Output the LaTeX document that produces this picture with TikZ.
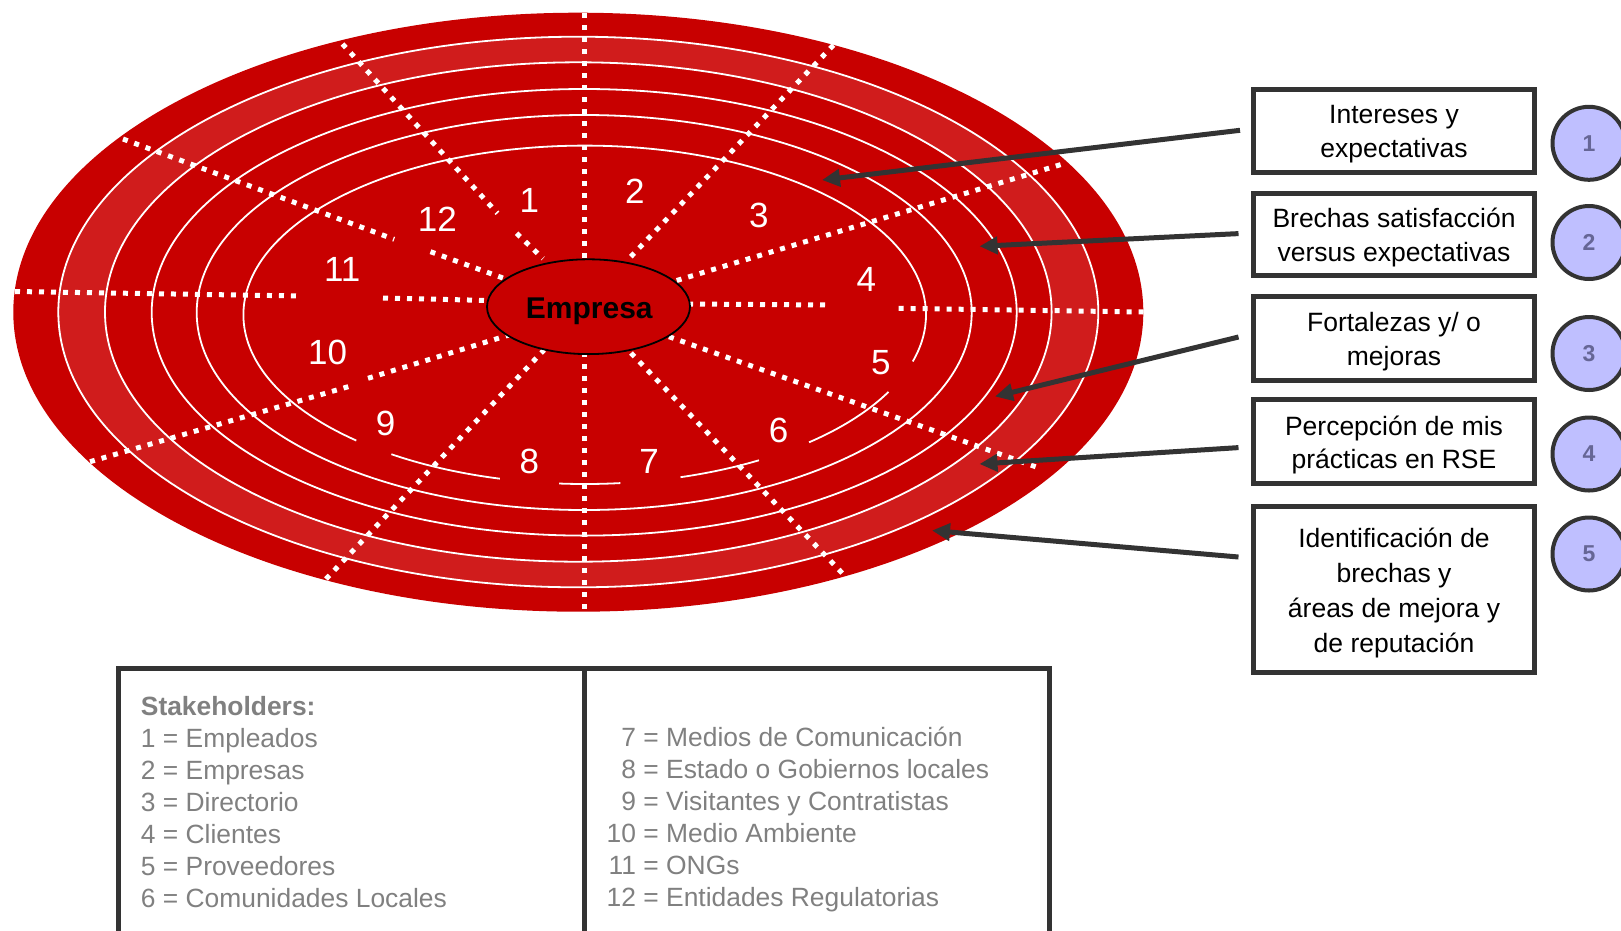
\documentclass[tikz,border=0pt]{standalone}
\usepackage{fontspec}
\setmainfont{Liberation Sans}
\usetikzlibrary{arrows.meta,shapes.geometric}
\definecolor{mainred}{RGB}{200,0,0}
\definecolor{bandred}{RGB}{208,28,28}
\definecolor{darkline}{RGB}{51,51,51}
\definecolor{lav}{RGB}{191,191,255}
\definecolor{lavnum}{RGB}{102,102,150}
\definecolor{tgray}{RGB}{128,128,128}
\begin{document}
\begin{tikzpicture}[x=1pt,y=-1pt,
  ringline/.style={draw=white,line width=1.8pt},
  spoke/.style={draw=white,line width=5pt,dash pattern=on 5pt off 7pt},
  numlbl/.style={text=white,font=\fontsize{35}{35}\selectfont,inner sep=0pt},
  infobox/.style={draw=darkline,line width=5pt,fill=white,minimum width=281pt,inner sep=0pt},
  boxtext/.style={align=center,font=\fontsize{26.5}{33.5}\selectfont,inner sep=0pt},
  badge/.style={circle,draw=darkline,line width=4pt,fill=lav,minimum size=73pt,inner sep=0pt,text=lavnum,font=\bfseries\fontsize{23}{23}\selectfont},
  pointer/.style={draw=darkline,line width=5pt,-{Triangle[length=18pt,width=17pt]}},
  tbl/.style={draw=darkline,line width=4.7pt},
  tbltext/.style={text=tgray,font=\fontsize{26.4}{32}\selectfont,inner sep=0pt,anchor=base west},
  empell/.style={ellipse,draw=black,line width=1.8pt,fill=mainred,minimum width=203pt,minimum height=94.8pt,inner sep=0pt},
  emptext/.style={text=black,font=\bfseries\fontsize{30}{30}\selectfont,inner sep=0pt,text height=21.5pt,text depth=0pt}
]
\useasboundingbox (0,0) rectangle (1621,930);
\clip (0,0) rectangle (1621,930);

% big ellipse and band
\fill[mainred] (578.3,312.2) ellipse [x radius=565, y radius=299.5];
\fill[bandred, even odd rule] (578.3,312) ellipse [x radius=520, y radius=275.3]
  (578.3,312) ellipse [x radius=473.3, y radius=249.7];

% rings
\draw[ringline] (578.3,312) ellipse [x radius=520, y radius=275.3];
\draw[ringline] (578.3,312) ellipse [x radius=473.3, y radius=249.7];
\draw[ringline] (584.2,312.3) ellipse [x radius=432.5, y radius=223.3];
\draw[ringline] (584.2,312.5) ellipse [x radius=387.5, y radius=197.5];
% innermost ring, broken below
\draw[ringline] (584.7,314.8) ++(132:341.3 and 169.2) arc[start angle=132, end angle=376, x radius=341.3, y radius=169.2];
\draw[ringline] (584.7,314.8) ++(104.4:341.3 and 169.2) arc[start angle=104.4, end angle=124.5, x radius=341.3, y radius=169.2];
\draw[ringline] (584.7,314.8) ++(84:341.3 and 169.2) arc[start angle=84, end angle=94.3, x radius=341.3, y radius=169.2];
\draw[ringline] (584.7,314.8) ++(59.3:341.3 and 169.2) arc[start angle=59.3, end angle=73.7, x radius=341.3, y radius=169.2];
\draw[ringline] (584.7,314.8) ++(27.1:341.3 and 169.2) arc[start angle=27.1, end angle=48.9, x radius=341.3, y radius=169.2];

% dotted spokes
\draw[spoke] (584.5,13) -- (584.5,262);
\draw[spoke] (584.5,352) -- (584.5,612);
\draw[spoke] (342.5,44) -- (497.5,213.3);
\draw[spoke] (516.6,233.3) -- (543,258.5);
\draw[spoke] (123,139) -- (394.2,239.3);
\draw[spoke] (430.5,251.7) -- (503,278);
\draw[spoke] (15,291.5) -- (302,296);
\draw[spoke] (383,298) -- (490,300.5);
\draw[spoke] (90,461.7) -- (354,385);
\draw[spoke] (368,378.3) -- (509,335);
\draw[spoke] (326,579) -- (544,350);
\draw[spoke] (631,353) -- (845,576);
\draw[spoke] (669,336.7) -- (1040,468.3);
\draw[spoke] (688,304) -- (831.7,305);
\draw[spoke] (898.7,308.3) -- (1143.5,312);
\draw[spoke] (676.7,280.5) -- (1065,163.3);
\draw[spoke] (630.8,256.7) -- (834,44.5);

% sector numbers
\node[numlbl] (n1) at (529.3,200.6) {1};
\node[numlbl] (n2) at (634.8,191.3) {2};
\node[numlbl] (n3) at (758.8,215) {3};
\node[numlbl] (n4) at (866.3,279) {4};
\node[numlbl] (n5) at (880.8,362.9) {5};
\node[numlbl] (n6) at (778.5,430) {6};
\node[numlbl] (n7) at (649.2,461) {7};
\node[numlbl] (n8) at (529.3,461) {8};
\node[numlbl] (n9) at (385.6,423.9) {9};
\node[numlbl] (n10) at (327.7,352.5) {10};
\node[numlbl] (n11) at (342.2,269.8) {11};
\node[numlbl] (n12) at (437.3,219.2) {12};

% center
\node[empell] (emp) at (588.5,306.7) {};
\node[emptext] (empt) at (589.3,307.8) {Empresa};

% right boxes
\node[infobox,minimum height=83.3pt] (b1) at (1394,130.8) {};
\node[infobox,minimum height=82.6pt] (b2) at (1394,234.5) {};
\node[infobox,minimum height=84pt] (b3) at (1394,338.3) {};
\node[infobox,minimum height=83.7pt] (b4) at (1394,441.7) {};
\node[infobox,minimum height=166pt] (b5) at (1394,589.5) {};
\node[boxtext] (b1t) at ([yshift=-3.5pt]b1.center) {Intereses y\\expectativas};
\node[boxtext] (b2t) at ([yshift=-3pt]b2.center) {Brechas satisfacción\\versus expectativas};
\node[boxtext] (b3t) at ([yshift=-3.5pt]b3.center) {Fortalezas y/ o\\mejoras};
\node[boxtext] (b4t) at ([yshift=-3.5pt]b4.center) {Percepción de mis\\prácticas en RSE};
\node[boxtext,font=\fontsize{26.5}{35}\selectfont] (b5t) at ([yshift=-3.5pt]b5.center) {Identificación de\\brechas y\\áreas de mejora y\\de reputación};

% badges
\node[badge] (c1) at (1589,143.3) {1};
\node[badge] (c2) at (1589,242.5) {2};
\node[badge] (c3) at (1589,353.5) {3};
\node[badge] (c4) at (1589,454) {4};
\node[badge] (c5) at (1589,554) {5};

% arrows
\coordinate (s1) at (1240,130.3);
\coordinate (s2) at (1238.5,233.6);
\coordinate (s3) at (1238.5,337);
\coordinate (s4) at (1238.5,447.6);
\coordinate (s5) at (1238.5,557);
\coordinate (t1) at (822,180);
\coordinate (t2) at (979.5,246.3);
\coordinate (t3) at (995,396.5);
\coordinate (t4) at (979.5,464);
\coordinate (t5) at (932,530.5);
\draw[pointer] (s1) -- (t1);
\draw[pointer] (s2) -- (t2);
\draw[pointer] (s3) -- (t3);
\draw[pointer] (s4) -- (t4);
\draw[pointer] (s5) -- (t5);

% legend table
\draw[tbl] (118.35,668.35) rectangle (1049.65,1000);
\draw[tbl] (584.2,668.35) -- (584.2,1000);
\node[tbltext] (l0) at (140.7,715.7) {\bfseries Stakeholders:};
\node[tbltext] (l1) at (140.7,747.7) {1 = Empleados};
\node[tbltext] (l2) at (140.7,779.7) {2 = Empresas};
\node[tbltext] (l3) at (140.7,811.7) {3 = Directorio};
\node[tbltext] (l4) at (140.7,843.7) {4 = Clientes};
\node[tbltext] (l5) at (140.7,875.7) {5 = Proveedores};
\node[tbltext] (l6) at (140.7,907.7) {6 = Comunidades Locales};
\node[tbltext] (r7) at (606.5,746.7) {\makebox[29.4pt][r]{7} = Medios de Comunicación};
\node[tbltext] (r8) at (606.5,778.7) {\makebox[29.4pt][r]{8} = Estado o Gobiernos locales};
\node[tbltext] (r9) at (606.5,810.7) {\makebox[29.4pt][r]{9} = Visitantes y Contratistas};
\node[tbltext] (r10) at (606.5,842.7) {\makebox[29.4pt][r]{10} = Medio Ambiente};
\node[tbltext] (r11) at (606.5,874.7) {\makebox[29.4pt][r]{11} = ONGs};
\node[tbltext] (r12) at (606.5,906.7) {\makebox[29.4pt][r]{12} = Entidades Regulatorias};
\end{tikzpicture}
\end{document}
